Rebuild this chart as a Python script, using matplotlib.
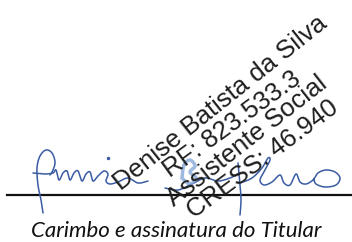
import numpy as np
import matplotlib
matplotlib.use("Agg")
import matplotlib.pyplot as plt

# ---- data -------------------------------------------------------------
stamp_lines = ["Denise Batista da Silva", "RF: 823.533.3",
               "Assistente Social", "CRESS: 46.940"]
stamp_cx = [224.5, 236, 251.5, 267]
stamp_cy = [108.5, 129.5, 147, 165]
stamp_rot = [38.5, 36, 38, 36.6]
caption = "Carimbo e assinatura do Titular"

# signature strokes (pixel coords, y downwards)
sig_d_x = [43, 41, 38, 37, 40, 46, 52, 55, 53, 50]
sig_d_y = [213, 200, 185, 168, 156, 150, 153, 162, 170, 175]
sig_u_x = [33, 45, 53, 56, 59, 63, 67, 70, 74, 78, 82, 86, 90, 93, 98, 104, 108, 106, 110, 118, 128, 138, 148]
sig_u_y = [173, 174, 173, 170, 180, 173, 171, 180, 173, 171, 181, 174, 172, 181, 176, 171, 174, 181, 184, 182, 178, 183, 181]
sig_b_x = [182, 184, 190, 195, 190, 196, 190, 184]
sig_b_y = [178, 165, 160, 166, 172, 178, 184, 180]
sig_e_x = [165, 178, 192, 205, 218, 230, 240]
sig_e_y = [188, 190, 184, 178, 181, 178, 173]
sig_v_x = [238, 240, 241, 240]
sig_v_y = [163, 185, 200, 215]
sig_l_x = [240, 252, 262, 268, 270, 265, 260, 264, 272, 280, 284, 290, 296, 300, 306, 313, 318, 326, 335, 340, 336, 325, 316, 314]
sig_l_y = [183, 178, 168, 158, 160, 170, 180, 185, 182, 175, 183, 185, 174, 182, 184, 180, 173, 170, 172, 178, 185, 187, 184, 179]


def smooth(xs, ys, n=12):
    p = np.column_stack([xs, ys]).astype(float)
    p = np.vstack([p[0], p, p[-1]])
    out = []
    for i in range(1, len(p) - 2):
        p0, p1, p2, p3 = p[i - 1], p[i], p[i + 1], p[i + 2]
        for t in np.linspace(0, 1, n, endpoint=False):
            t2, t3 = t * t, t * t * t
            out.append(0.5 * ((2 * p1) + (-p0 + p2) * t +
                              (2 * p0 - 5 * p1 + 4 * p2 - p3) * t2 +
                              (-p0 + 3 * p1 - 3 * p2 + p3) * t3))
    out.append(p[-2])
    out = np.array(out)
    return out[:, 0], out[:, 1]


W, H = 352, 242
fig = plt.figure(figsize=(W / 100, H / 100), dpi=100)
ax = fig.add_axes([0, 0, 1, 1])
ax.set_xlim(0, W)
ax.set_ylim(H, 0)
ax.axis("off")

ink = "#3a5ca3"
for xs, ys in [(sig_d_x, sig_d_y), (sig_u_x, sig_u_y), (sig_e_x, sig_e_y),
               (sig_v_x, sig_v_y), (sig_l_x, sig_l_y)]:
    sx, sy = smooth(xs, ys)
    ax.plot(sx, sy, color=ink, lw=1.1, solid_capstyle="round", zorder=2)
bx, by = smooth(sig_b_x, sig_b_y)
ax.plot(bx, by, color="#86a9da", lw=2.5, alpha=0.8, zorder=2)
ax.plot([108], [158], marker="o", ms=1.5, color=ink, zorder=2)

# signature line
ax.plot([7, W], [195, 195], color="#111111", lw=1.6, zorder=1)

# stamp text
for s, cx, cy, r in zip(stamp_lines, stamp_cx, stamp_cy, stamp_rot):
    ax.text(cx, cy, s, rotation=r, rotation_mode="anchor", ha="center",
            va="baseline", fontsize=18.5, family="Liberation Sans",
            color="#1e1e1e", zorder=3)

ax.text(176, 237, caption, ha="center", va="baseline", fontsize=16,
        family="Lato", style="italic", color="#111111")

fig.savefig("out.png", dpi=100)
